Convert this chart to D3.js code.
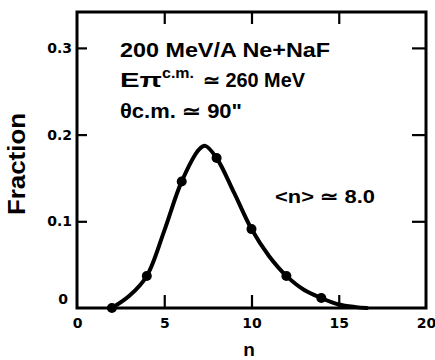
<!DOCTYPE html>
<html><head><meta charset="utf-8">
<script src="https://cdn.jsdelivr.net/npm/d3@7"></script>
<style>body{margin:0;background:#fff}svg{display:block}</style>
</head><body><svg id="c" width="435" height="360"></svg>
<script>
// measured points
const nPts = [2, 4, 6, 8, 10, 12, 14];
const fracPts = [0.0, 0.037, 0.146, 0.173, 0.091, 0.037, 0.0115];
// smooth curve drawn through the data
const nCurve = [2, 3, 4, 5, 6, 7, 7.35, 8, 9, 10, 11, 12, 13, 14, 15, 16, 16.6];
const fracCurve = [0.0, 0.014, 0.037, 0.089, 0.146, 0.183, 0.187, 0.173, 0.133, 0.091, 0.060, 0.037, 0.021, 0.0115, 0.004, 0.001, 0.0];
const xTicks = [0, 5, 10, 15, 20];
const yTicks = [0, 0.1, 0.2, 0.3];
const xTickLabels = ["0", "5", "10", "15", "20"];
const yTickLabels = ["0", "0.1", "0.2", "0.3"];

const svg = d3.select("#c");
const L = 77, R = 426, T = 12, B = 308;
const x = d3.scaleLinear().domain([0, 20]).range([L, R]);
const y = d3.scaleLinear().domain([0, 0.3414]).range([B, T]);
const font = "'Liberation Sans', Arial, sans-serif";
const tickFont = "'DejaVu Sans', sans-serif";

// frame
svg.append("rect").attr("x", L).attr("y", T).attr("width", R - L).attr("height", B - T)
  .attr("fill", "none").attr("stroke", "#000").attr("stroke-width", 3);

function styleAxis(g) {
  g.select(".domain").remove();
  g.selectAll("line").attr("stroke", "#000").attr("stroke-width", 2.2);
  g.selectAll("text").attr("fill", "#000").attr("font-family", tickFont)
    .attr("font-weight", "bold").attr("font-size", 14);
}
// bottom axis
svg.append("g").attr("transform", `translate(0,${B})`)
  .call(d3.axisBottom(x).tickValues(xTicks).tickFormat((d, i) => xTickLabels[i]).tickSizeInner(-13).tickSizeOuter(0).tickPadding(10))
  .call(styleAxis)
  .call(g => g.selectAll(".tick").filter(d => d === 0 || d === 20).select("line").remove());
// top axis ticks
svg.append("g").attr("transform", `translate(0,${T})`)
  .call(d3.axisTop(x).tickValues([5, 10, 15]).tickFormat("").tickSizeInner(-12).tickSizeOuter(0))
  .call(styleAxis);
// left axis
svg.append("g").attr("transform", `translate(${L},0)`)
  .call(d3.axisLeft(y).tickValues(yTicks).tickFormat((d, i) => yTickLabels[i]).tickSizeInner(-10).tickSizeOuter(0).tickPadding(5))
  .call(styleAxis)
  .call(g => g.selectAll(".tick").filter(d => d === 0).select("line").remove())
  .call(g => g.selectAll(".tick").filter(d => d === 0).select("text").attr("dy", "-0.3em").attr("x", -9));
// right axis ticks
svg.append("g").attr("transform", `translate(${R},0)`)
  .call(d3.axisRight(y).tickValues([0.1, 0.2, 0.3]).tickFormat("").tickSizeInner(-14).tickSizeOuter(0))
  .call(styleAxis);

// curve
const curveData = nCurve.map((n, i) => [n, fracCurve[i]]);
svg.append("path").datum(curveData)
  .attr("d", d3.line().x(d => x(d[0])).y(d => y(d[1])).curve(d3.curveCatmullRom.alpha(0.5)))
  .attr("fill", "none").attr("stroke", "#000").attr("stroke-width", 4).attr("stroke-linecap", "round");
// points
svg.append("g").selectAll("circle").data(nPts.map((n, i) => [n, fracPts[i]])).join("circle")
  .attr("cx", d => x(d[0])).attr("cy", d => y(d[1])).attr("r", 5).attr("fill", "#000");

// axis titles
svg.append("text").attr("transform", "translate(25,164) rotate(-90)").attr("text-anchor", "middle")
  .attr("font-family", font).attr("font-weight", "bold").attr("font-size", 23)
  .attr("textLength", 102).attr("lengthAdjust", "spacingAndGlyphs").text("Fraction");
svg.append("text").attr("x", 249).attr("y", 356).attr("text-anchor", "middle")
  .attr("font-family", font).attr("font-weight", "bold").attr("font-size", 19).text("n");

// annotations
const ann = svg.append("g").attr("font-family", font).attr("font-weight", "bold").attr("fill", "#000");
ann.append("text").attr("x", 120).attr("y", 57).attr("font-size", 19.5)
  .attr("textLength", 210).attr("lengthAdjust", "spacingAndGlyphs").text("200 MeV/A Ne+NaF");
const t2 = ann.append("text").attr("x", 120).attr("y", 87).attr("font-size", 19.5);
t2.append("tspan").attr("textLength", 42).attr("lengthAdjust", "spacingAndGlyphs").text("Eπ");
t2.append("tspan").attr("dy", -9).attr("font-size", 15).attr("textLength", 32).attr("lengthAdjust", "spacingAndGlyphs").text("c.m.");
t2.append("tspan").attr("dy", 9).attr("x", 197).attr("textLength", 108).attr("lengthAdjust", "spacingAndGlyphs").text(" ≃ 260 MeV");
ann.append("text").attr("x", 120).attr("y", 118).attr("font-size", 19.5)
  .attr("textLength", 122).attr("lengthAdjust", "spacingAndGlyphs").text("θc.m. ≃ 90\"");
ann.append("text").attr("x", 275).attr("y", 203).attr("font-size", 19)
  .attr("textLength", 100).attr("lengthAdjust", "spacingAndGlyphs").text("<n> ≃ 8.0");
</script></body></html>
